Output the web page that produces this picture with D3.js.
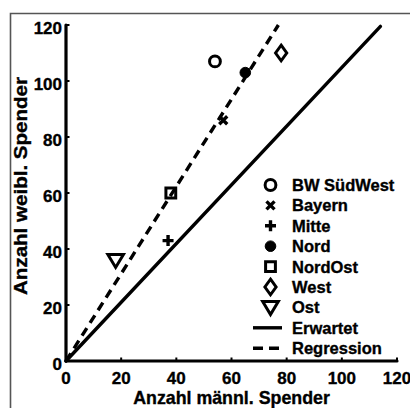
<!DOCTYPE html>
<html><head><meta charset="utf-8">
<script src="https://cdn.jsdelivr.net/npm/d3@7"></script>
<style>
html,body{margin:0;padding:0;background:#fff;}
svg{display:block;}
text{font-family:"Liberation Sans",Arial,Helvetica,sans-serif;font-weight:bold;fill:#000;stroke:#000;stroke-width:0.35px;}
</style></head>
<body>
<svg id="chart" width="410" height="408"></svg>
<script>
// ---- data ----
const regions = ["BW SüdWest","Bayern","Mitte","Nord","NordOst","West","Ost"];
const maleDonors = [54, 57, 37, 65, 38, 78, 18];
const femaleDonors = [107, 86, 43, 103, 60, 110, 36];
const markerTypes = ["circle","times","plus","dot","square","diamond","triangleDown"];
const expectedLine = [[0,0],[114,119.5]];
const regressionLine = [[0,0],[77,120]];
const lineLabels = ["Erwartet","Regression"];
const ticks = [0,20,40,60,80,100,120];
const xTitle = "Anzahl männl. Spender";
const yTitle = "Anzahl weibl. Spender";

// ---- layout ----
const svg = d3.select("#chart");
const x = d3.scaleLinear().domain([0,120]).range([66,397]);
const y = d3.scaleLinear().domain([0,120]).range([361,25]);

// figure border (left + top)
svg.append("path").attr("d","M10.5,408 L10.5,13.5 L410,13.5")
  .attr("fill","none").attr("stroke","#555").attr("stroke-width",1.6);

// marker path generator
function markerPath(type){
  switch(type){
    case "circle": return d3.symbol(d3.symbolCircle, Math.PI*5.4*5.4)();
    case "dot": return d3.symbol(d3.symbolCircle, Math.PI*5.3*5.3)();
    case "square": return "M-4.9,-4.9H4.9V4.9H-4.9Z";
    case "diamond": return "M0,-7.8L5.6,0L0,7.8L-5.6,0Z";
    case "triangleDown": return "M-7.8,-5.8H7.8L0,7.2Z";
    case "times": return "M-4,-4L4,4M-4,4L4,-4";
    case "plus": return "M-5.5,0H5.5M0,-5.5V5.5";
  }
}
function drawMarker(g, type){
  const p = g.append("path").attr("d", markerPath(type));
  if (type === "dot") p.attr("fill","#000").attr("stroke","#000").attr("stroke-width",1);
  else p.attr("fill","none").attr("stroke","#000")
        .attr("stroke-width", (type==="times"||type==="plus") ? 3.4 : 3)
        .attr("stroke-linejoin","miter");
}

// lines
const line = d3.line().x(d=>x(d[0])).y(d=>y(d[1]));
svg.append("path").datum(expectedLine).attr("d",line)
  .attr("fill","none").attr("stroke","#000").attr("stroke-width",3.4).attr("stroke-linecap","round");
svg.append("path").datum(regressionLine).attr("d",line)
  .attr("fill","none").attr("stroke","#000").attr("stroke-width",3.4).attr("stroke-dasharray","9,6");

// axes
const axisG = svg.append("g");
axisG.append("line").attr("x1",x(0)).attr("x2",x(120)).attr("y1",y(0)).attr("y2",y(0))
  .attr("stroke","#000").attr("stroke-width",3.2).attr("stroke-linecap","round");
axisG.append("line").attr("x1",x(0)).attr("x2",x(0)).attr("y1",y(0)).attr("y2",y(120))
  .attr("stroke","#000").attr("stroke-width",3.2).attr("stroke-linecap","round");
ticks.forEach(t=>{
  axisG.append("line").attr("x1",x(t)).attr("x2",x(t)).attr("y1",y(0)).attr("y2",y(0)-3.5)
    .attr("stroke","#000").attr("stroke-width",2);
  axisG.append("line").attr("x1",x(0)).attr("x2",x(0)+3.5).attr("y1",y(t)).attr("y2",y(t))
    .attr("stroke","#000").attr("stroke-width",2);
  axisG.append("text").attr("x",x(t)).attr("y",y(0)+22.5).attr("text-anchor","middle")
    .style("font-size","17px").text(t);
  axisG.append("text").attr("x",62).attr("y",y(t)+8.5).attr("text-anchor","end")
    .style("font-size","17px").text(t);
});
svg.append("text").attr("x",(x(0)+x(120))/2).attr("y",404).attr("text-anchor","middle")
  .style("font-size","17.8px").text(xTitle);
svg.append("text").attr("transform","translate(26.5,186) rotate(-90)").attr("text-anchor","middle")
  .attr("textLength",218).attr("lengthAdjust","spacingAndGlyphs")
  .style("font-size","18px").text(yTitle);

// points
regions.forEach((r,i)=>{
  const g = svg.append("g").attr("transform",`translate(${x(maleDonors[i])},${y(femaleDonors[i])})`);
  drawMarker(g, markerTypes[i]);
});

// legend
const legX = 270.5, legTextX = 292, legY0 = 185, legStep = 20.4;
regions.forEach((r,i)=>{
  const cy = legY0 + i*legStep;
  const g = svg.append("g").attr("transform",`translate(${legX},${cy})`);
  drawMarker(g, markerTypes[i]);
  svg.append("text").attr("x",legTextX).attr("y",cy+6).style("font-size","16.5px").text(r);
});
lineLabels.forEach((l,j)=>{
  const cy = legY0 + (regions.length+j)*legStep;
  const ln = svg.append("line").attr("x1",253).attr("x2",282).attr("y1",cy).attr("y2",cy)
    .attr("stroke","#000").attr("stroke-width",3.4);
  if (j===1) ln.attr("stroke-dasharray","10,6");
  svg.append("text").attr("x",legTextX).attr("y",cy+6).style("font-size","16.5px").text(l);
});
</script>
</body></html>
